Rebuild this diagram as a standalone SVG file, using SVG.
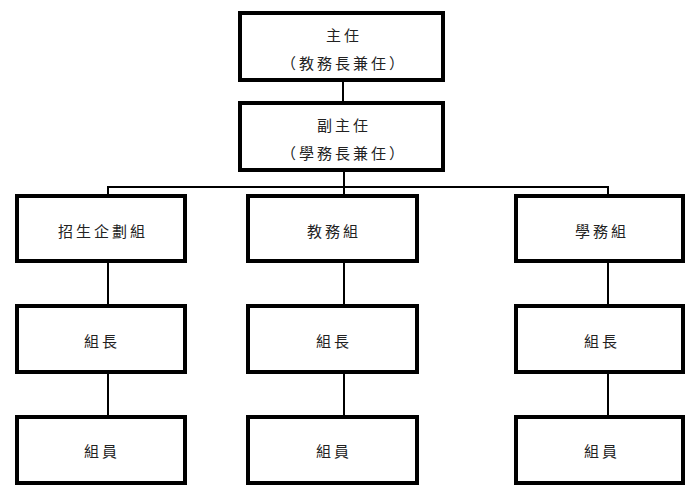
<svg xmlns="http://www.w3.org/2000/svg" width="700" height="491" viewBox="0 0 700 491">
<style>
.box{fill:#fff;stroke:#000;stroke-width:4}
.ln{stroke:#000;stroke-width:2;fill:none}
text{font-family:"Noto Sans CJK TC","Noto Sans CJK SC",sans-serif;font-size:15px;fill:#222;text-anchor:middle;dominant-baseline:central;letter-spacing:3px}
</style>
<rect width="700" height="491" fill="#fff"/>
<g id="connectors">
<line class="ln" x1="343" y1="80" x2="343" y2="102"/>
<line class="ln" x1="344" y1="170" x2="344" y2="196"/>
<polyline class="ln" points="108,196 108,187 608,187 608,196"/>
<line class="ln" x1="108" y1="261" x2="108" y2="306"/>
<line class="ln" x1="108" y1="372" x2="108" y2="417"/>
<line class="ln" x1="344" y1="261" x2="344" y2="306"/>
<line class="ln" x1="344" y1="372" x2="344" y2="417"/>
<line class="ln" x1="608" y1="261" x2="608" y2="306"/>
<line class="ln" x1="608" y1="372" x2="608" y2="417"/>
</g>
<g id="director">
<rect class="box" x="240" y="13" width="203" height="67"/>
<text x="344" y="34">主任</text>
<text x="344" y="62">（教務長兼任）</text>
</g>
<g id="deputy">
<rect class="box" x="240" y="103" width="203" height="67"/>
<text x="344" y="124">副主任</text>
<text x="344" y="152">（學務長兼任）</text>
</g>
<g id="group1">
<rect class="box" x="17" y="196" width="168" height="65"/>
<text x="103" y="230">招生企劃組</text>
</g>
<g id="group2">
<rect class="box" x="248" y="196" width="169" height="65"/>
<text x="334" y="230">教務組</text>
</g>
<g id="group3">
<rect class="box" x="516" y="196" width="167" height="65"/>
<text x="602" y="230">學務組</text>
</g>
<g id="leader1">
<rect class="box" x="17" y="306" width="168" height="66"/>
<text x="102" y="340">組長</text>
</g>
<g id="leader2">
<rect class="box" x="248" y="306" width="169" height="66"/>
<text x="334" y="340">組長</text>
</g>
<g id="leader3">
<rect class="box" x="516" y="306" width="167" height="66"/>
<text x="602" y="340">組長</text>
</g>
<g id="member1">
<rect class="box" x="17" y="417" width="168" height="66"/>
<text x="102" y="450">組員</text>
</g>
<g id="member2">
<rect class="box" x="248" y="417" width="169" height="66"/>
<text x="334" y="450">組員</text>
</g>
<g id="member3">
<rect class="box" x="516" y="417" width="167" height="66"/>
<text x="602" y="450">組員</text>
</g>
</svg>
